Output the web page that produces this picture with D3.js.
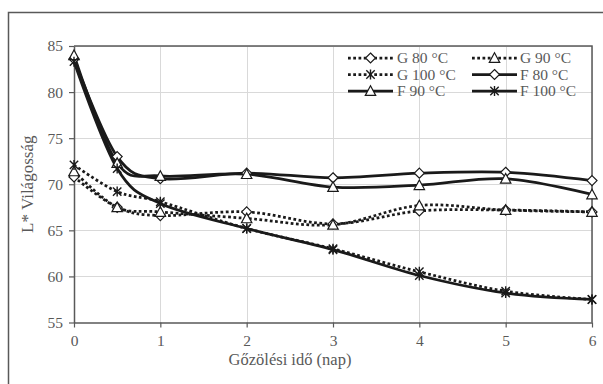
<!DOCTYPE html>
<html>
<head>
<meta charset="utf-8">
<script src="https://cdn.jsdelivr.net/npm/d3@7"></script>
<style>
  html, body { margin: 0; padding: 0; background: #fff; }
  svg { display: block; }
  svg text {
    font-family: "Liberation Serif", "Tinos", "Times New Roman", "DejaVu Serif", serif;
    fill: #595959;
  }
</style>
</head>
<body>
<svg id="chart" width="603" height="384"></svg>
<script>
// Steaming time (days) on the x axis.
const days = [0, 0.5, 1, 2, 3, 4, 5, 6];

// L* lightness per series.
const g80 = [70.8, 67.5, 66.6, 67.0, 65.7, 67.1, 67.2, 67.0];
const g90 = [71.4, 67.5, 67.0, 66.3, 65.6, 67.7, 67.2, 67.0];
const g100 = [72.1, 69.2, 68.1, 65.2, 63.0, 60.5, 58.4, 57.5];
const f80 = [83.6, 73.0, 70.6, 71.2, 70.7, 71.2, 71.3, 70.4];
const f90 = [84.0, 72.3, 70.9, 71.1, 69.7, 69.9, 70.6, 68.9];
const f100 = [83.3, 71.7, 67.9, 65.2, 62.9, 60.1, 58.2, 57.5];

const seriesNames = ['G 80 °C', 'G 90 °C', 'G 100 °C', 'F 80 °C', 'F 90 °C', 'F 100 °C'];
const seriesValues = [g80, g90, g100, f80, f90, f100];
const seriesMarkers = ['diamond', 'triangle', 'asterisk', 'diamond', 'triangle', 'asterisk'];
const seriesDotted = [true, true, true, false, false, false];

const xTicks = [0, 1, 2, 3, 4, 5, 6];
const yTicks = [55, 60, 65, 70, 75, 80, 85];

const SERIF = '"Liberation Serif", "Tinos", "Times New Roman", "DejaVu Serif", serif';
const INK = '#1a1a1a';
const AXIS = '#595959';
const GRID = '#d9d9d9';
const LINE_WIDTH = 2.75;
const DOTS = '2.75,2.5';

const svg = d3.select('#chart');

// Outer chart frame; its right and bottom edges fall outside the picture.
svg.append('rect')
  .attr('x', 8.5).attr('y', 12.5)
  .attr('width', 640).attr('height', 420)
  .attr('fill', 'none')
  .attr('stroke', AXIS)
  .attr('stroke-width', 1.5);

const plot = {left: 74, right: 592, top: 46, bottom: 322.5};

const x = d3.scaleLinear().domain([0, 6]).range([plot.left, plot.right]);
const y = d3.scaleLinear().domain([55, 85]).range([plot.bottom, plot.top]);

// Gridlines.
const grid = svg.append('g').attr('stroke', GRID).attr('stroke-width', 1);
grid.selectAll('line.h')
  .data(yTicks.slice(1))
  .enter().append('line')
  .attr('x1', plot.left).attr('x2', plot.right)
  .attr('y1', (d) => Math.round(y(d)) + 0.5)
  .attr('y2', (d) => Math.round(y(d)) + 0.5);
grid.selectAll('line.v')
  .data(xTicks.slice(1))
  .enter().append('line')
  .attr('y1', plot.top).attr('y2', plot.bottom)
  .attr('x1', (d) => Math.round(x(d)) + 0.5)
  .attr('x2', (d) => Math.round(x(d)) + 0.5);

// Plot area border (top and right), axes draw the rest.
svg.append('path')
  .attr('d', `M ${plot.left},${plot.top} H ${plot.right} V ${plot.bottom}`)
  .attr('fill', 'none')
  .attr('stroke', AXIS)
  .attr('stroke-width', 1.5);

const xAxis = svg.append('g')
  .attr('transform', `translate(0,${plot.bottom})`)
  .call(d3.axisBottom(x).tickValues(xTicks).tickFormat(d3.format('d'))
    .tickSize(5).tickSizeOuter(0).tickPadding(7));

const yAxis = svg.append('g')
  .attr('transform', `translate(${plot.left},0)`)
  .call(d3.axisLeft(y).tickValues(yTicks).tickSize(5).tickSizeOuter(0).tickPadding(6));

[xAxis, yAxis].forEach((axis) => {
  axis.attr('font-family', SERIF);
  axis.select('.domain').attr('stroke', AXIS).attr('stroke-width', 1.5);
  axis.selectAll('.tick line').attr('stroke', AXIS).attr('stroke-width', 1.2);
  axis.selectAll('.tick text')
    .attr('fill', '#595959')
    .style('font-family', SERIF)
    .style('font-size', '15.5px');
});

// Axis titles.
svg.append('text')
  .attr('x', (plot.left + plot.right) / 2 - 43)
  .attr('y', 365)
  .attr('text-anchor', 'middle')
  .style('font-family', SERIF)
  .style('font-size', '16.5px')
  .text('Gőzölési idő (nap)');

svg.append('text')
  .attr('transform', `translate(33,${(plot.top + plot.bottom) / 2}) rotate(-90)`)
  .attr('text-anchor', 'middle')
  .style('font-family', SERIF)
  .style('font-size', '17px')
  .text('L* Világosság');

/**
 * Appends one hollow marker centred on (cx, cy).
 * @param {d3.Selection} sel Parent group.
 * @param {string} kind diamond | triangle | asterisk
 */
function drawMarker(sel, kind, cx, cy) {
  const g = sel.append('g')
    .attr('transform', `translate(${cx},${cy})`)
    .attr('stroke', INK)
    .attr('stroke-width', 1.2)
    .attr('fill', '#fff');
  if (kind === 'diamond') {
    g.append('path').attr('d', 'M 0,-5 L 5,0 L 0,5 L -5,0 Z');
  } else if (kind === 'triangle') {
    g.append('path').attr('d', 'M 0,-5.2 L 5.2,4.4 L -5.2,4.4 Z');
  } else {
    g.append('path')
      .attr('d', 'M -4.2,-4.2 L 4.2,4.2 M -4.2,4.2 L 4.2,-4.2 M 0,-5 V 5')
      .attr('fill', 'none')
      .attr('stroke-width', 1.4);
  }
}

// Excel style smoothing: control points at 1/6 of the neighbour chord.
const line = d3.line()
  .x((d) => x(d[0]))
  .y((d) => y(d[1]))
  .curve(d3.curveCardinal.tension(0));

const seriesLayer = svg.append('g');
seriesValues.forEach((values, i) => {
  const pts = days.map((d, j) => [d, values[j]]);
  seriesLayer.append('path')
    .attr('d', line(pts))
    .attr('fill', 'none')
    .attr('stroke', INK)
    .attr('stroke-width', LINE_WIDTH)
    .attr('stroke-dasharray', seriesDotted[i] ? DOTS : null);
});
seriesValues.forEach((values, i) => {
  const g = seriesLayer.append('g');
  days.forEach((d, j) => drawMarker(g, seriesMarkers[i], x(d), y(values[j])));
});

// Legend, two columns by three rows, inside the plot area.
const legendCols = [{x1: 348, x2: 393, tx: 397}, {x1: 472, x2: 517, tx: 520}];
const legendRows = [58, 74.5, 91];
const legend = svg.append('g');
seriesNames.forEach((name, i) => {
  const col = legendCols[i % 2];
  const ry = legendRows[Math.floor(i / 2)];
  legend.append('line')
    .attr('x1', col.x1).attr('x2', col.x2)
    .attr('y1', ry).attr('y2', ry)
    .attr('stroke', INK)
    .attr('stroke-width', LINE_WIDTH)
    .attr('stroke-dasharray', seriesDotted[i] ? DOTS : null);
  drawMarker(legend, seriesMarkers[i], (col.x1 + col.x2) / 2, ry);
  legend.append('text')
    .attr('x', col.tx)
    .attr('y', ry)
    .attr('dy', '0.35em')
    .style('font-family', SERIF)
    .style('font-size', '15.5px')
    .text(name);
});
</script>
</body>
</html>
